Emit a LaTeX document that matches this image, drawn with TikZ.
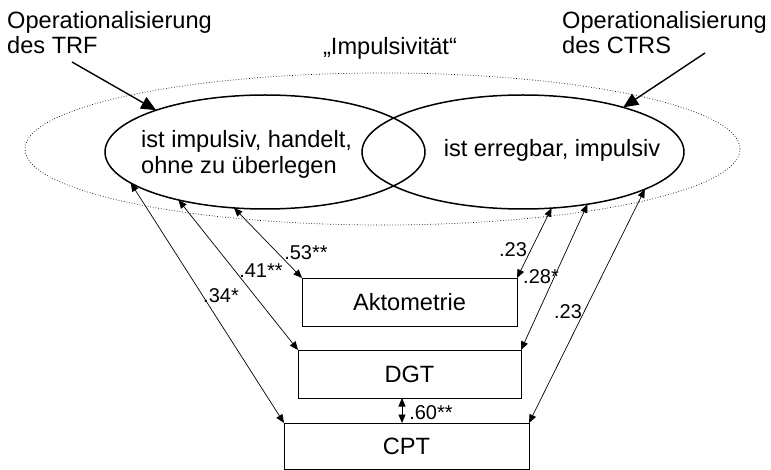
\documentclass[tikz,border=0pt]{standalone}
\usepackage{fontspec}
\setmainfont{Liberation Sans}
\usetikzlibrary{arrows.meta,shapes.geometric}
\begin{document}
\begin{tikzpicture}[x=1pt,y=-1pt,
  bigfont/.style={font=\fontsize{23.6}{25}\selectfont},
  numfont/.style={font=\fontsize{20}{21}\selectfont},
  ell/.style={draw,ellipse,line width=1.5pt,inner sep=0pt,outer sep=0pt},
  outerell/.style={draw,ellipse,dotted,line width=0.7pt,inner sep=0pt,outer sep=0pt},
  boxn/.style={draw,rectangle,line width=0.9pt,inner sep=0pt,outer sep=0pt,bigfont},
  conn/.style={line width=0.7pt,{Triangle[length=8.5pt,width=7pt]}-{Triangle[length=8.5pt,width=7pt]}},
  pointer/.style={line width=1.4pt,-{Triangle[length=15pt,width=13pt]}},
  lab/.style={numfont,inner sep=0pt},
  txt/.style={bigfont,inner sep=0pt}]
\useasboundingbox (0,0) rectangle (771,470);

% outer dotted ellipse
\node[outerell,minimum width=715pt,minimum height=152pt] (O) at (382.5,149) {};

% two construct ellipses
\node[ell,minimum width=320pt,minimum height=114pt] (L) at (265,152) {};
\node[ell,minimum width=322pt,minimum height=114pt] (R) at (523,152) {};

\node[txt,align=left,anchor=west,font=\fontsize{23.6}{26}\selectfont] (Ltext) at (141,154) {ist impulsiv, handelt,\\ohne zu überlegen};
\node[txt,anchor=base] (Rtext) at (552,157) {ist erregbar, impulsiv};

% headings
\node[txt,align=left,anchor=north west] (trflab) at (7,11) {Operationalisierung\\des TRF};
\node[txt,align=left,anchor=north west] (ctrslab) at (562,11) {Operationalisierung\\des CTRS};
\node[txt,anchor=base] (imp) at (390,55) {„Impulsivität“};

% pointer arrows
\coordinate (trf) at (72,62);
\coordinate (ctrs) at (705,53);
\draw[pointer] (trf) -- (L.159);
\draw[pointer] (ctrs) -- (R.24.3);

% boxes
\node[boxn,minimum width=215pt,minimum height=48pt] (A) at (409.5,302) {Aktometrie};
\node[boxn,minimum width=223pt,minimum height=48pt] (D) at (409.5,374) {DGT};
\node[boxn,minimum width=245pt,minimum height=46pt] (C) at (406.5,446) {CPT};

% connectors
\draw[conn] (L.241) -- (A.north west);
\draw[conn] (L.209) -- (D.north west);
\draw[conn] (L.193) -- (C.north west);
\draw[conn] (R.297.8) -- (A.north east);
\draw[conn] (R.321.8) -- (D.north east);
\draw[conn] (R.343.1) -- (C.north east);
\draw[conn] ([xshift=-7.5pt]D.south) -- ([xshift=-4.5pt]C.north);

% labels
\node[lab] (l53) at (306,253) {.53**};
\node[lab] (l41) at (261,271) {.41**};
\node[lab] (l34) at (221,296) {.34*};
\node[lab] (r23a) at (513,250) {.23};
\node[lab] (r28) at (541,277) {.28*};
\node[lab] (r23b) at (568,312) {.23};
\node[lab] (l60) at (431,413) {.60**};
\end{tikzpicture}
\end{document}
